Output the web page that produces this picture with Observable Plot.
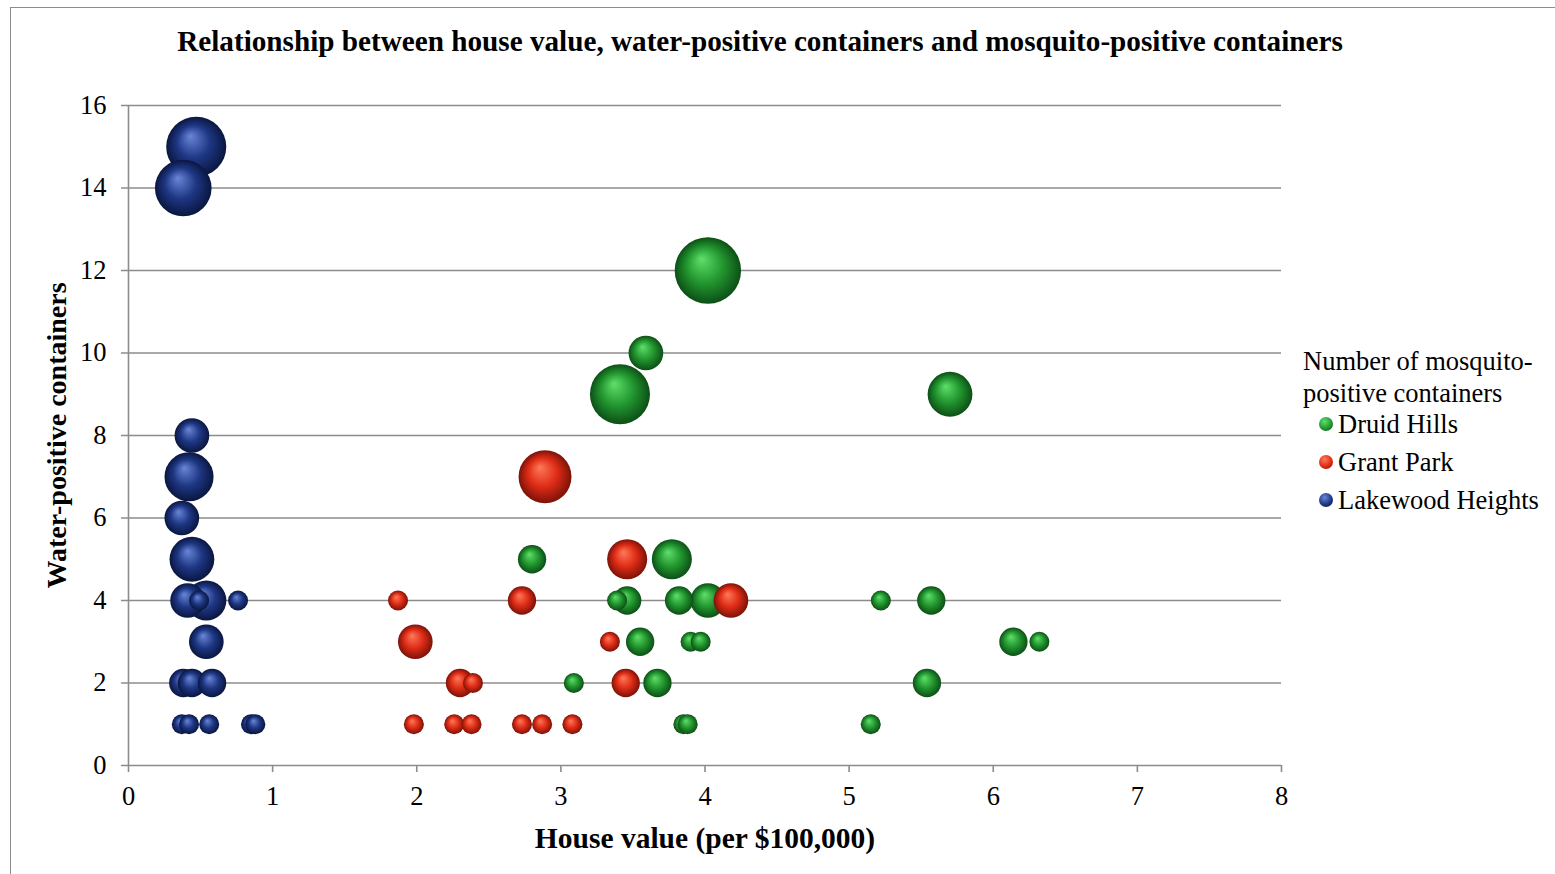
<!DOCTYPE html>
<html>
<head>
<meta charset="utf-8">
<script src="https://cdn.jsdelivr.net/npm/d3@7"></script>
<script src="https://cdn.jsdelivr.net/npm/@observablehq/plot@0.6"></script>
<style>
  html, body { margin: 0; padding: 0; background: #fff; }
  #wrap { position: relative; width: 1555px; height: 874px; overflow: hidden; font-family: "Liberation Serif", "Times New Roman", serif; }
  #border { position: absolute; left: 10px; top: 7px; width: 1560px; height: 880px; border: 1.5px solid #8c8c8c; box-sizing: border-box; }
  #title { position: absolute; left: 0; top: 24px; width: 1520px; text-align: center; font-weight: bold; font-size: 29.2px; line-height: 34px; color: #000; }
  #chart { position: absolute; left: 0; top: 0; }
  #legend { position: absolute; left: 1303px; top: 345px; font-size: 26.5px; color: #000; line-height: 32px; }
  #legend .item { display: flex; align-items: center; height: 38px; margin-left: 16px; }
  #legend .item.first { margin-top: -4px; }
  #legend .dot { width: 14px; height: 14px; border-radius: 50%; margin-right: 5px; }
  g[aria-label="y-axis label"] text { font-weight: bold; font-size: 28px; }
  g[aria-label="x-axis label"] text { font-weight: bold; font-size: 29.5px; }
</style>
</head>
<body>
<div id="wrap">
  <div id="border"></div>
  <div id="chart"></div>
  <div id="title">Relationship between house value, water-positive containers and mosquito-positive containers</div>
  <div id="legend"></div>
</div>
<script>
// Series: [house value (per $100,000), water-positive containers, mosquito-positive containers]
const druidHills = [
  [4.02, 12, 11], [3.59, 10, 3], [3.41, 9, 9], [5.70, 9, 5], [2.80, 5, 2], [3.77, 5, 4],
  [3.39, 4, 1], [3.46, 4, 2], [3.82, 4, 2], [4.02, 4, 3], [5.22, 4, 1], [5.57, 4, 2],
  [3.55, 3, 2], [3.90, 3, 1], [3.97, 3, 1], [6.14, 3, 2], [6.32, 3, 1],
  [3.09, 2, 1], [3.67, 2, 2], [5.54, 2, 2],
  [3.85, 1, 1], [3.88, 1, 1], [5.15, 1, 1]
];
const grantPark = [
  [2.89, 7, 7], [3.46, 5, 4], [1.87, 4, 1], [2.73, 4, 2], [4.18, 4, 3],
  [1.99, 3, 3], [3.34, 3, 1], [2.30, 2, 2], [2.39, 2, 1], [3.45, 2, 2],
  [1.98, 1, 1], [2.26, 1, 1], [2.38, 1, 1], [2.73, 1, 1], [2.87, 1, 1], [3.08, 1, 1]
];
const lakewoodHeights = [
  [0.47, 15, 9], [0.38, 14, 8], [0.44, 8, 3], [0.42, 7, 6], [0.37, 6, 3], [0.44, 5, 5],
  [0.41, 4, 3], [0.54, 4, 4], [0.49, 4, 1], [0.76, 4, 1], [0.54, 3, 3],
  [0.38, 2, 2], [0.44, 2, 2], [0.58, 2, 2],
  [0.37, 1, 1], [0.42, 1, 1], [0.56, 1, 1], [0.85, 1, 1], [0.88, 1, 1]
];
const seriesNames = ["Druid Hills", "Grant Park", "Lakewood Heights"];
const seriesData = [druidHills, grantPark, lakewoodHeights];
const gradIds = ["gGreen", "gRed", "gBlue"];
const gradStops = [
  ["#5fe06a", "#22962f", "#0c4f16"],
  ["#ff7a5a", "#de2c16", "#7c1208"],
  ["#6a86d8", "#1e3784", "#0a1640"]
];
const xTicks = [0, 1, 2, 3, 4, 5, 6, 7, 8];
const yTicks = [0, 2, 4, 6, 8, 10, 12, 14, 16];
const legendTitle = ["Number of mosquito-", "positive containers"];

const rows = seriesData.map(s => s.map(([x, y, m]) => ({x, y, m})));
const gridColor = "#8c8c8c";

const chart = Plot.plot({
  width: 1555,
  height: 874,
  marginLeft: 128,
  marginRight: 274,
  marginTop: 105,
  marginBottom: 109,
  style: { fontFamily: "Liberation Serif, 'Times New Roman', serif", fontSize: "26.5px", color: "#000", background: "transparent" },
  x: { domain: [0, 8] },
  y: { domain: [0, 16] },
  r: { type: "sqrt", domain: [0, 11], range: [0, 33.2] },
  marks: [
    Plot.ruleY(yTicks, { stroke: gridColor, strokeWidth: 1.6, insetLeft: -7 }),
    Plot.ruleX([0], { stroke: gridColor, strokeWidth: 1.6 }),
    Plot.axisY({ ticks: yTicks, tickSize: 0, tickPadding: 22, label: "Water-positive containers", labelAnchor: "center", labelArrow: "none", labelOffset: 82, fill: "#000" }),
    Plot.axisX({ ticks: xTicks, tickSize: 7, tickPadding: 14, stroke: gridColor, strokeWidth: 1.6, label: "House value (per $100,000)", labelAnchor: "center", labelArrow: "none", labelOffset: 82, fill: "#000" }),
    ...rows.map((d, i) => Plot.dot(d, { x: "x", y: "y", r: "m", fill: `url(#${gradIds[i]})`, stroke: "none" }))
  ]
});
document.getElementById("chart").appendChild(chart);

// sphere-like gradients
const svg = d3.select(chart);
const defs = svg.insert("defs", ":first-child");
gradIds.forEach((id, i) => {
  const g = defs.append("radialGradient").attr("id", id)
    .attr("cx", "0.5").attr("cy", "0.5").attr("r", "0.5")
    .attr("fx", "0.4").attr("fy", "0.32");
  g.append("stop").attr("offset", "0%").attr("stop-color", gradStops[i][0]);
  g.append("stop").attr("offset", "55%").attr("stop-color", gradStops[i][1]);
  g.append("stop").attr("offset", "100%").attr("stop-color", gradStops[i][2]);
});

// legend
const legend = d3.select("#legend");
legendTitle.forEach(t => legend.append("div").text(t));
seriesNames.forEach((name, i) => {
  const item = legend.append("div").attr("class", i === 0 ? "item first" : "item");
  item.append("div").attr("class", "dot")
    .style("background", `radial-gradient(circle at 40% 32%, ${gradStops[i][0]} 0%, ${gradStops[i][1]} 55%, ${gradStops[i][2]} 100%)`);
  item.append("span").text(name);
});
</script>
</body>
</html>
